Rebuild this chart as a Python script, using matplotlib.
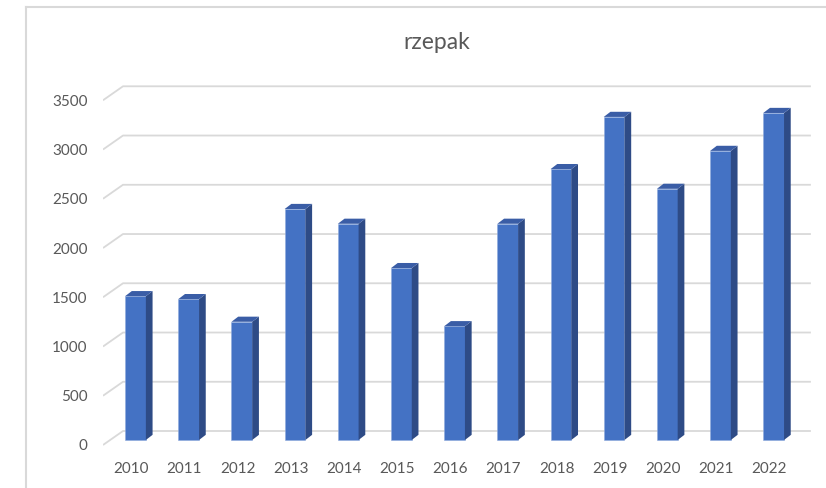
import matplotlib.pyplot as plt
from matplotlib.patches import Polygon
from matplotlib.lines import Line2D

# dane
years = ['2010', '2011', '2012', '2013', '2014', '2015', '2016',
         '2017', '2018', '2019', '2020', '2021', '2022']
values = [1460, 1430, 1200, 2345, 2195, 1745, 1155,
          2195, 2750, 3280, 2550, 2935, 3320]
yticks = [0, 500, 1000, 1500, 2000, 2500, 3000, 3500]

front = '#4472C4'
side = '#2E4B86'
top = '#3A5DA6'
grid = '#D9D9D9'
txt = '#595959'

plt.rcParams['font.family'] = ['Lato', 'DejaVu Sans']

fig = plt.figure(figsize=(8.26, 4.88), dpi=100)
ax = fig.add_axes([0.1247, 0.0738, 0.857, 0.7623])

# glebokosc 3D (przesuniecie sciany tylnej i scianek slupkow)
w = 0.39
dx, dy = 0.126, 52
back_x0, back_dy = -0.235, 91
front_x0, front_dy = -0.611, -51
x_end = 12.70

# siatka na tylnej scianie
for v in yticks:
    ax.plot([front_x0, back_x0, x_end], [v + front_dy, v + back_dy, v + back_dy],
            color=grid, lw=1.3, zorder=1, solid_capstyle='butt')

# slupki
xs = list(range(len(years)))
ax.bar(xs, values, width=w, color=front, edgecolor='#8FAADC', linewidth=0.4, zorder=3)
for x, v in zip(xs, values):
    r = x + w / 2
    l = x - w / 2
    ax.add_patch(Polygon([(r, 0), (r + dx, dy), (r + dx, v + dy), (r, v)],
                         closed=True, facecolor=side, edgecolor='none', zorder=3))
    ax.add_patch(Polygon([(l, v), (l + dx, v + dy), (r + dx, v + dy), (r, v)],
                         closed=True, facecolor=top, edgecolor='none', zorder=3))

ax.set_xlim(front_x0, x_end)
ax.set_ylim(-122, 3655)

ax.set_yticks([v + front_dy for v in yticks])
ax.set_yticklabels([str(v) for v in yticks])
ax.set_xticks([x - 0.08 for x in xs])
ax.set_xticklabels(years)
ax.tick_params(axis='y', length=0, pad=11, labelsize=11, labelcolor=txt)
ax.tick_params(axis='x', length=0, pad=7, labelsize=11, labelcolor=txt)
for s in ax.spines.values():
    s.set_visible(False)
ax.patch.set_alpha(0)

fig.text(437 / 826, 0.913, 'rzepak', ha='center', va='center', fontsize=16.5, color=txt)

# ramka wykresu (obcieta z prawej i od dolu)
fig.add_artist(Line2D([26 / 826, 26 / 826], [0, 1 - 7 / 488], color=grid, lw=1.5))
fig.add_artist(Line2D([26 / 826, 1], [1 - 7 / 488, 1 - 7 / 488], color=grid, lw=1.5))

fig.savefig('out.png', dpi=100, facecolor='white')
